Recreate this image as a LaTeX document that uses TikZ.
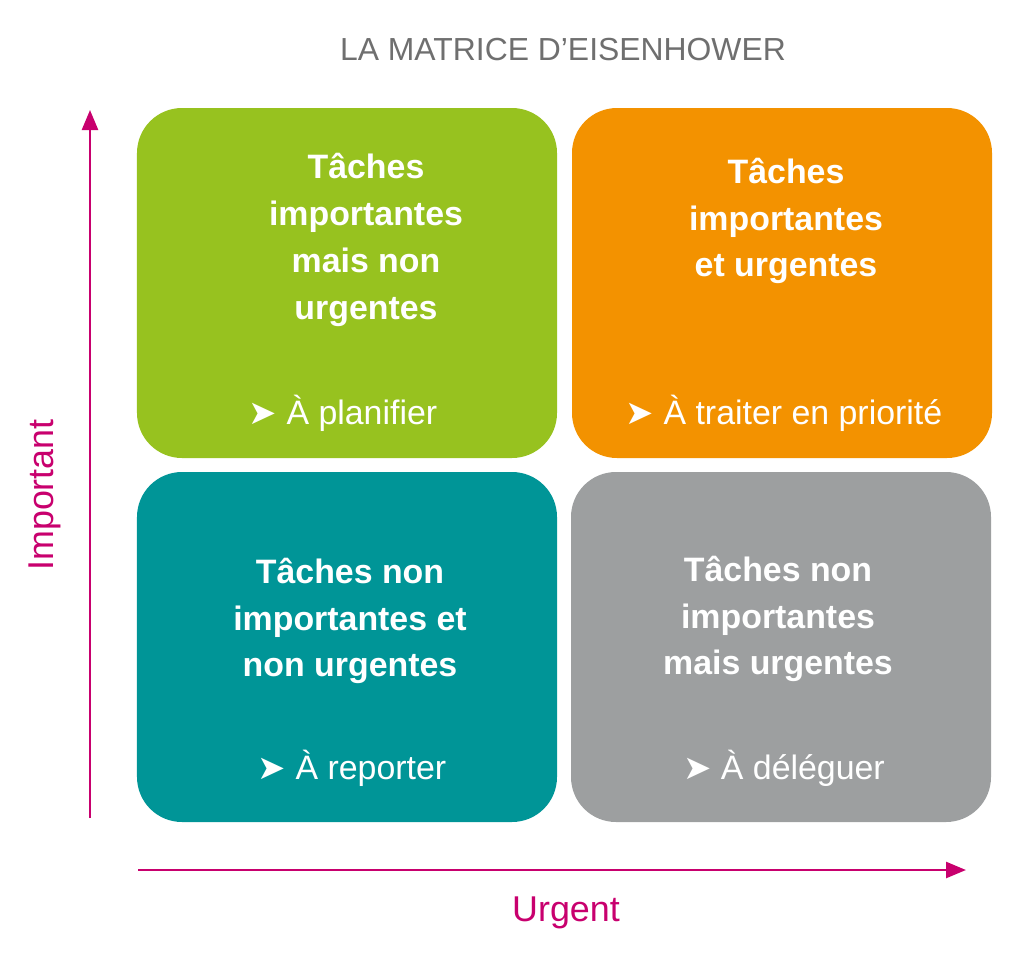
\documentclass[tikz,border=0pt]{standalone}
\usepackage{fontspec}
\setmainfont{Liberation Sans}
\newfontfamily\arrowfont{DejaVu Sans}
\usetikzlibrary{arrows.meta, positioning}
\definecolor{vert}{HTML}{97C21F}
\definecolor{orange}{HTML}{F39200}
\definecolor{bleu}{HTML}{009597}
\definecolor{gris}{HTML}{9D9FA0}
\definecolor{rose}{HTML}{C8006E}
\definecolor{titre}{HTML}{6F6F6F}

\begin{document}
\begin{tikzpicture}[x=1bp, y=-1bp,
    quadrant/.style={rectangle, rounded corners=45bp, minimum width=420bp,
        minimum height=350bp, inner sep=0pt},
    tasks/.style={text=white, font=\fontsize{34}{47}\selectfont\bfseries,
        align=center},
    action/.style={text=white, font=\fontsize{34}{40}\selectfont},
    axis/.style={draw=rose, line width=2.5bp, -{Triangle[length=20bp, width=16bp]}},
    axislabel/.style={text=rose, font=\fontsize{36}{40}\selectfont}
]
\useasboundingbox (0,0) rectangle (1024,967);

\node (title) at (563,50) [text=titre, font=\fontsize{32}{36}\selectfont] {LA MATRICE D’EISENHOWER};

\node (Q1) at (347,283) [quadrant, fill=vert] {};
\node (Q2) at (782,283) [quadrant, fill=orange] {};
\node (Q3) at (347,647) [quadrant, fill=bleu] {};
\node (Q4) at (781,647) [quadrant, fill=gris] {};

\node (Q1text) at (366,240) [tasks] {Tâches\\importantes\\mais non\\urgentes};
\node (Q2text) at (786,221) [tasks] {Tâches\\importantes\\et urgentes};
\node (Q3text) at (350,621) [tasks] {Tâches non\\importantes et\\non urgentes};
\node (Q4text) at (778,619) [tasks] {Tâches non\\importantes\\mais urgentes};

\node (Q1action) at (343,413) [action] {{\arrowfont ➤} À planifier};
\node (Q2action) at (784,413) [action] {{\arrowfont ➤} À traiter en priorité};
\node (Q3action) at (352,768) [action] {{\arrowfont ➤} À reporter};
\node (Q4action) at (784,768) [action] {{\arrowfont ➤} À déléguer};

\coordinate (yfrom) at (90,818);
\coordinate (yto) at (90,110);
\coordinate (xfrom) at (138,870);
\coordinate (xto) at (966,870);
\draw[axis] (yfrom) -- (yto);
\draw[axis] (xfrom) -- (xto);

\node (important) at (45,495) [axislabel, rotate=90] {Important};
\node (urgent) at (566,913) [axislabel] {Urgent};
\end{tikzpicture}
\end{document}
